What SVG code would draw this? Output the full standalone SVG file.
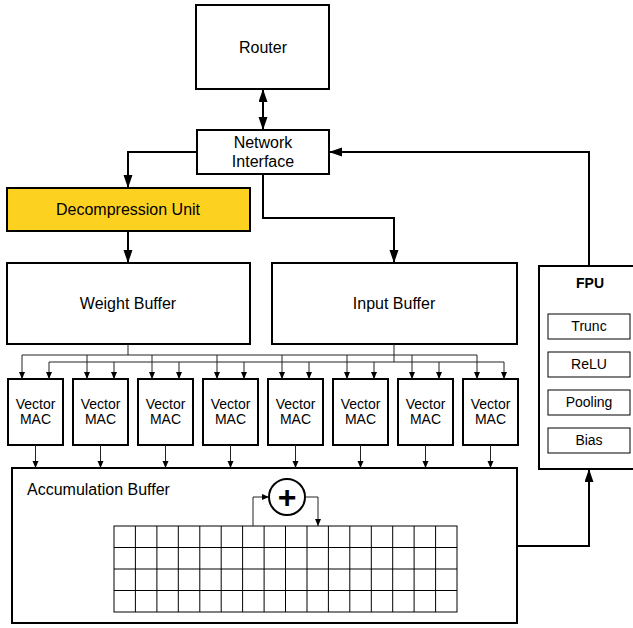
<svg xmlns="http://www.w3.org/2000/svg" width="633" height="628" viewBox="0 0 633 628">
<style>
.box{fill:#fff;stroke:#000;stroke-width:2}
.sub{fill:#fff;stroke:#000;stroke-width:1}
.t{font-family:"Liberation Sans",Arial,sans-serif;font-size:16px;fill:#000;text-anchor:middle}
.tm{font-family:"Liberation Sans",Arial,sans-serif;font-size:14px;fill:#000;text-anchor:middle}
.w{fill:none;stroke:#000;stroke-width:2}
.n{fill:none;stroke:#222;stroke-width:1}
.g{fill:none;stroke:#000;stroke-width:1}
</style>
<defs>
<marker id="big" markerUnits="userSpaceOnUse" markerWidth="14" markerHeight="10" refX="13" refY="4.5" orient="auto-start-reverse"><path d="M0,0 L13,4.5 L0,9 z" fill="#000"/></marker>
<marker id="sm" markerUnits="userSpaceOnUse" markerWidth="8" markerHeight="7" refX="7" refY="3" orient="auto"><path d="M0,0 L7,3 L0,6 z" fill="#000"/></marker>
</defs>
<g id="router"><rect class="box" x="196" y="5" width="133" height="84"/><text class="t" x="263" y="53">Router</text></g>
<g id="ni"><rect class="box" x="197" y="130" width="132" height="44"/><text class="t" x="263" y="148">Network</text><text class="t" x="263" y="167">Interface</text></g>
<g id="decomp"><rect x="7" y="188" width="243" height="43" fill="#fdd120" stroke="#000" stroke-width="2"/><text class="t" x="128" y="215">Decompression Unit</text></g>
<g id="weight"><rect class="box" x="7" y="263" width="243" height="81"/><text class="t" x="128" y="309">Weight Buffer</text></g>
<g id="input"><rect class="box" x="272" y="263" width="245" height="81"/><text class="t" x="394" y="309">Input Buffer</text></g>
<g id="fpu"><rect class="box" x="539" y="266" width="110" height="203"/>
<text class="tm" x="590" y="288" font-weight="bold" font-size="13">FPU</text>
<rect class="sub" x="548" y="314" width="82" height="25"/><text class="tm" x="589" y="331">Trunc</text>
<rect class="sub" x="548" y="352" width="82" height="25"/><text class="tm" x="589" y="369">ReLU</text>
<rect class="sub" x="548" y="390" width="82" height="25"/><text class="tm" x="589" y="407">Pooling</text>
<rect class="sub" x="548" y="428" width="82" height="25"/><text class="tm" x="589" y="445">Bias</text></g>
<g id="mac1"><rect class="box" x="8" y="379" width="55" height="66"/><text class="tm" x="35.5" y="409">Vector</text><text class="tm" x="35.5" y="424">MAC</text></g>
<g id="mac2"><rect class="box" x="73" y="379" width="55" height="66"/><text class="tm" x="100.5" y="409">Vector</text><text class="tm" x="100.5" y="424">MAC</text></g>
<g id="mac3"><rect class="box" x="138" y="379" width="55" height="66"/><text class="tm" x="165.5" y="409">Vector</text><text class="tm" x="165.5" y="424">MAC</text></g>
<g id="mac4"><rect class="box" x="203" y="379" width="55" height="66"/><text class="tm" x="230.5" y="409">Vector</text><text class="tm" x="230.5" y="424">MAC</text></g>
<g id="mac5"><rect class="box" x="268" y="379" width="55" height="66"/><text class="tm" x="295.5" y="409">Vector</text><text class="tm" x="295.5" y="424">MAC</text></g>
<g id="mac6"><rect class="box" x="333" y="379" width="55" height="66"/><text class="tm" x="360.5" y="409">Vector</text><text class="tm" x="360.5" y="424">MAC</text></g>
<g id="mac7"><rect class="box" x="398" y="379" width="55" height="66"/><text class="tm" x="425.5" y="409">Vector</text><text class="tm" x="425.5" y="424">MAC</text></g>
<g id="mac8"><rect class="box" x="463" y="379" width="55" height="66"/><text class="tm" x="490.5" y="409">Vector</text><text class="tm" x="490.5" y="424">MAC</text></g>
<g id="accum"><rect class="box" x="12" y="468" width="505" height="155"/><text class="t" x="27" y="495" text-anchor="start" style="text-anchor:start">Accumulation Buffer</text>
<g class="g">
<rect x="114" y="526" width="343" height="86"/>
<path d="M114,547.5 H457 M114,569 H457 M114,590.5 H457"/>
<path d="M135.4,526 V612 M156.9,526 V612 M178.3,526 V612 M199.8,526 V612 M221.2,526 V612 M242.6,526 V612 M264.1,526 V612 M285.5,526 V612 M307,526 V612 M328.4,526 V612 M349.8,526 V612 M371.3,526 V612 M392.7,526 V612 M414.1,526 V612 M435.6,526 V612"/>
</g>
</g>
<g id="adder"><circle cx="287" cy="497" r="18" fill="#fff" stroke="#000" stroke-width="2"/><text x="287" y="508" font-family="'Liberation Sans',Arial,sans-serif" font-size="32" font-weight="bold" text-anchor="middle">+</text></g>
<g id="connectors">
<line class="w" x1="263" y1="89" x2="263" y2="130" marker-start="url(#big)" marker-end="url(#big)"/>
<path class="w" d="M197,152 H128 V188" marker-end="url(#big)"/>
<path class="w" d="M263,174 V218 H394 V263" marker-end="url(#big)"/>
<path class="w" d="M128,231 V263" marker-end="url(#big)"/>
<path class="w" d="M589,266 V152 H329" marker-end="url(#big)"/>
<path class="w" d="M517,546 H589 V469" marker-end="url(#big)"/>
<path class="n" d="M128,344 V355 M22,355 H477 M394,344 V362 M49,362 H504"/>
<path class="n" d="M22,355 V379" marker-end="url(#sm)"/>
<path class="n" d="M87,355 V379" marker-end="url(#sm)"/>
<path class="n" d="M152,355 V379" marker-end="url(#sm)"/>
<path class="n" d="M217,355 V379" marker-end="url(#sm)"/>
<path class="n" d="M282,355 V379" marker-end="url(#sm)"/>
<path class="n" d="M347,355 V379" marker-end="url(#sm)"/>
<path class="n" d="M412,355 V379" marker-end="url(#sm)"/>
<path class="n" d="M477,355 V379" marker-end="url(#sm)"/>
<path class="n" d="M49,362 V379" marker-end="url(#sm)"/>
<path class="n" d="M114,362 V379" marker-end="url(#sm)"/>
<path class="n" d="M179,362 V379" marker-end="url(#sm)"/>
<path class="n" d="M244,362 V379" marker-end="url(#sm)"/>
<path class="n" d="M309,362 V379" marker-end="url(#sm)"/>
<path class="n" d="M374,362 V379" marker-end="url(#sm)"/>
<path class="n" d="M439,362 V379" marker-end="url(#sm)"/>
<path class="n" d="M504,362 V379" marker-end="url(#sm)"/>
<path class="n" d="M35.5,445 V468" marker-end="url(#sm)"/>
<path class="n" d="M100.5,445 V468" marker-end="url(#sm)"/>
<path class="n" d="M165.5,445 V468" marker-end="url(#sm)"/>
<path class="n" d="M230.5,445 V468" marker-end="url(#sm)"/>
<path class="n" d="M295.5,445 V468" marker-end="url(#sm)"/>
<path class="n" d="M360.5,445 V468" marker-end="url(#sm)"/>
<path class="n" d="M425.5,445 V468" marker-end="url(#sm)"/>
<path class="n" d="M490.5,445 V468" marker-end="url(#sm)"/>
<path class="n" d="M253,526 V497 H269" marker-end="url(#sm)"/>
<path class="n" d="M305,497 H318 V526" marker-end="url(#sm)"/>
</g>
</svg>
